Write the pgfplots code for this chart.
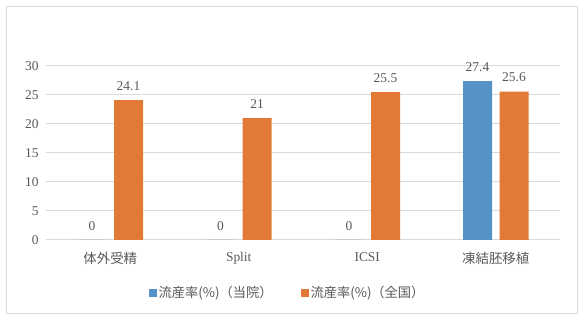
\documentclass[border=0pt]{standalone}
\usepackage{pgfplots}
\pgfplotsset{compat=1.18}
\usepackage{fontspec}
\setmainfont{Liberation Serif}
\newfontfamily\cjk{Noto Sans CJK JP}
\definecolor{cblue}{HTML}{5592C8}
\definecolor{corange}{HTML}{E27935}
\definecolor{txt}{HTML}{595959}
\definecolor{gridc}{HTML}{D9D9D9}
\begin{document}
\begin{tikzpicture}
\useasboundingbox (0bp,0bp) rectangle (585bp,321bp);
\fill[white] (0bp,0bp) rectangle (585bp,321bp);
\draw[gridc, line width=1bp] (6.5bp,7bp) rectangle (577.5bp,314.5bp);
\begin{axis}[
  at={(46bp,81bp)}, anchor=south west,
  scale only axis, width=514bp, height=174bp,
  ybar, bar width=29bp,
  xmin=-0.5, xmax=3.5, ymin=0, ymax=30,
  ytick={0,5,...,30},
  xtick={0,1,2,3},
  xticklabels={{\cjk 体外受精},Split,ICSI,{\cjk 凍結胚移植}},
  /pgf/number format/assume math mode=true,
  axis x line*=bottom, axis y line*=left,
  x axis line style={draw=gridc, line width=1bp, -},
  y axis line style={draw=none},
  ymajorgrids=true, xmajorgrids=false,
  major grid style={draw=gridc, line width=1bp},
  major tick length=0pt,
  tick label style={text=txt, font=\fontsize{13.5}{15}\selectfont},
  yticklabel style={xshift=-4bp},
  xticklabel style={yshift=-9bp},
  clip=false,
  nodes near coords,
  every node near coord/.append style={text=txt, font=\fontsize{13.5}{15}\selectfont, anchor=center, yshift=14bp},
  legend columns=2,
  legend style={at={(0.47,-0.305)}, anchor=center, draw=none, font=\cjk\fontsize{13.3}{15}\selectfont, text=txt,
    /tikz/every even column/.append style={column sep=26bp}},
  legend image code/.code={\fill[#1] (0bp,-4bp) rectangle (8bp,4bp);},
]
\addplot[fill=cblue, draw=none, bar shift=-18.25bp] coordinates {(0,0) (1,0) (2,0) (3,27.4)};
\addplot[fill=corange, draw=none, bar shift=18.25bp] coordinates {(0,24.1) (1,21) (2,25.5) (3,25.6)};
\legend{流産率(\%)（当院）,流産率(\%)（全国）}
\end{axis}
\end{tikzpicture}
\end{document}
